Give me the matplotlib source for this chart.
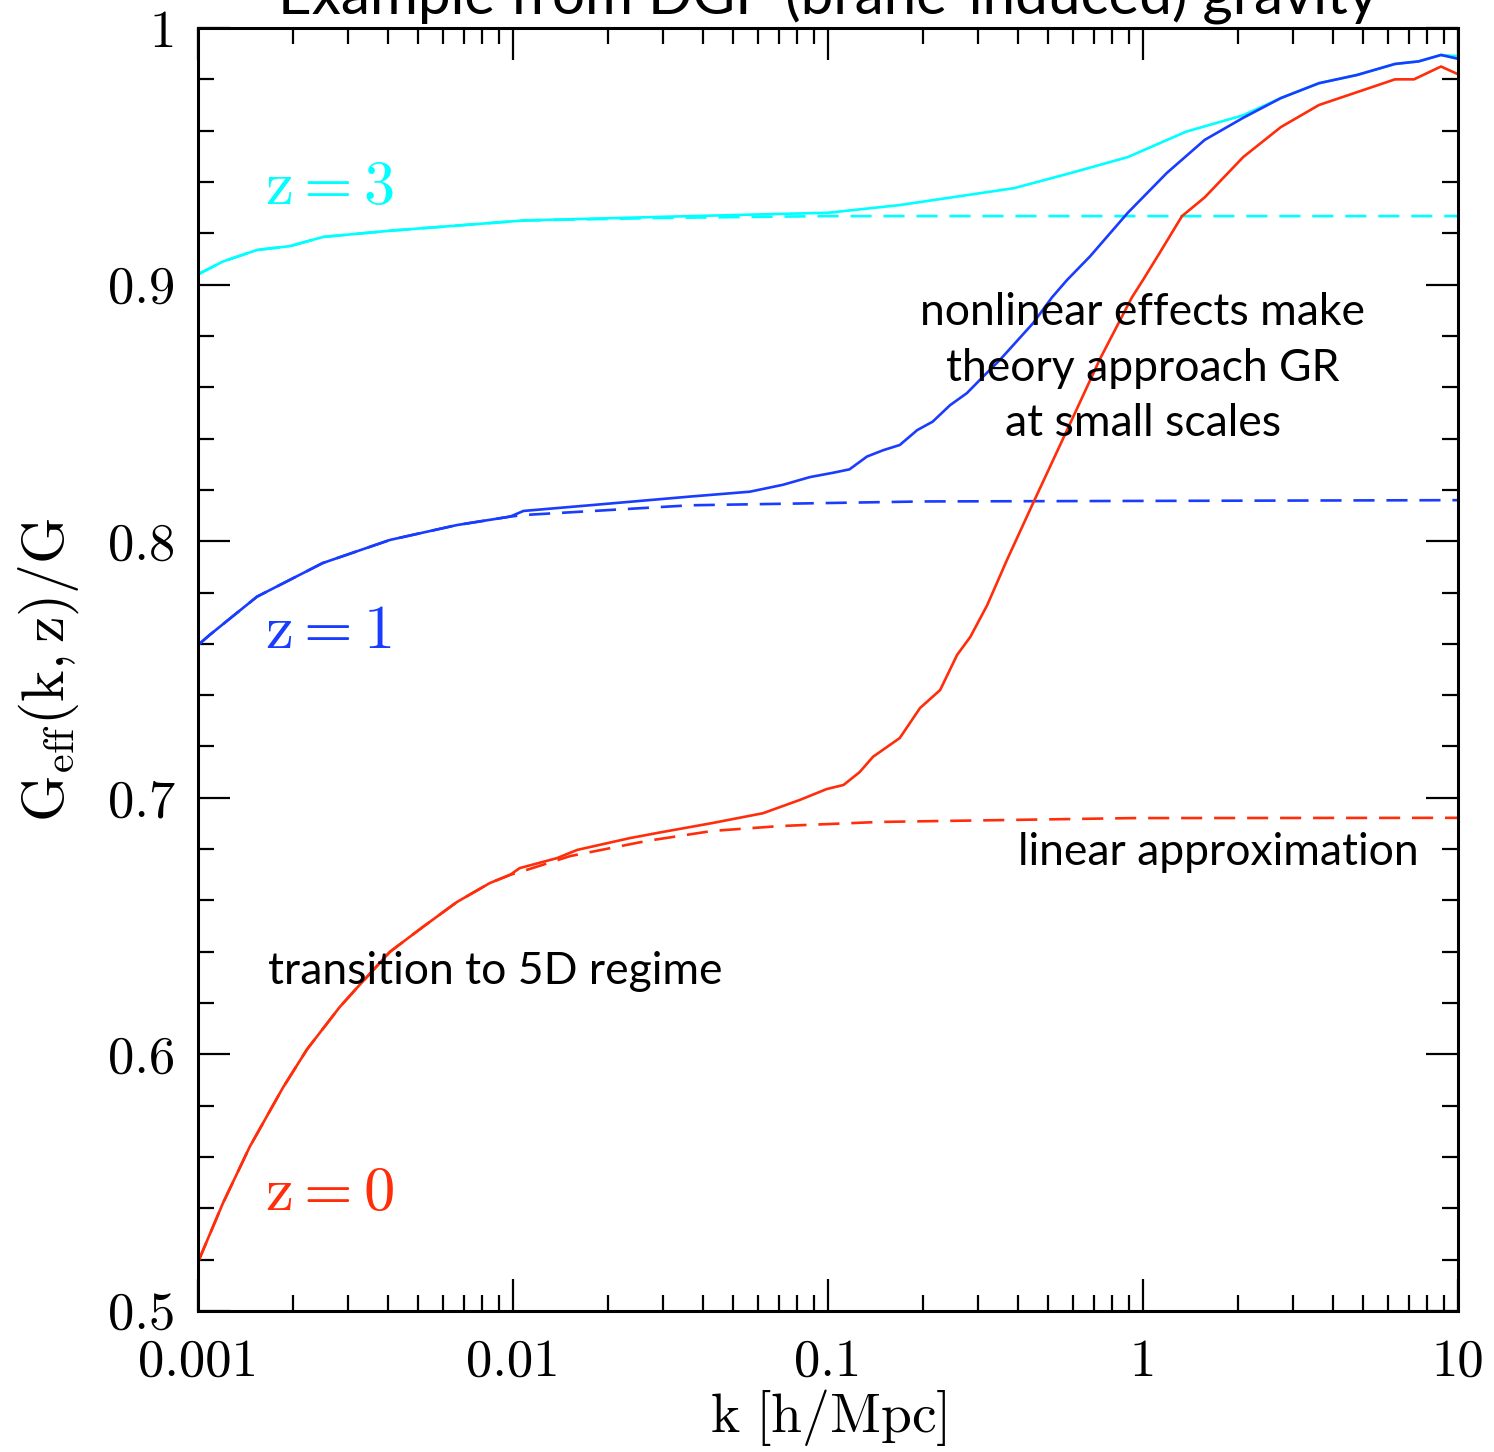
import matplotlib
matplotlib.use("Agg")
import matplotlib.pyplot as plt
from matplotlib.ticker import MultipleLocator, LogLocator, FixedLocator, FixedFormatter

plt.rcParams.update({
    "mathtext.fontset": "cm",
    "axes.formatter.use_mathtext": True,
    "font.family": "cmr10",
})

# --- curves: G_eff(k,z)/G vs k [h/Mpc] ---
K_Z0 = [0.001, 0.0012, 0.00146, 0.00186, 0.00222, 0.00282, 0.0032, 0.00407, 0.00518,
        0.00664, 0.00845, 0.0098, 0.0105, 0.0138, 0.016, 0.0235, 0.0299, 0.0431, 0.0622,
        0.0815, 0.099, 0.112, 0.126, 0.139, 0.169, 0.196, 0.227, 0.257, 0.283, 0.32,
        0.37, 0.448, 0.574, 0.73, 0.922, 1.0, 1.125, 1.33, 1.57, 2.08, 2.74, 3.62, 4.78,
        6.31, 7.25, 8.83, 10.0]
G_Z0 = [0.519, 0.542, 0.564, 0.587, 0.602, 0.6185, 0.626, 0.640, 0.6497,
        0.6594, 0.6668, 0.6700, 0.6726, 0.6765, 0.6797, 0.6843, 0.6867, 0.6902, 0.694,
        0.6992, 0.7034, 0.705, 0.710, 0.716, 0.7233, 0.735, 0.742, 0.7557, 0.7627, 0.775,
        0.7927, 0.8149, 0.8433, 0.871, 0.895, 0.9018, 0.912, 0.9267, 0.934, 0.9497, 0.9614,
        0.970, 0.975, 0.980, 0.980, 0.985, 0.982]
K_Z0_LIN = [0.001, 0.0012, 0.00146, 0.00186, 0.00222, 0.00282, 0.0032, 0.00407, 0.00518,
            0.00664, 0.00845, 0.0098, 0.0108, 0.0152, 0.0266, 0.043, 0.0705, 0.146, 0.93, 10.0]
G_Z0_LIN = [0.519, 0.542, 0.564, 0.587, 0.602, 0.6185, 0.626, 0.640, 0.6497,
            0.6594, 0.6668, 0.6700, 0.6715, 0.6773, 0.6832, 0.6871, 0.689, 0.6906, 0.6921, 0.6922]

K_Z1 = [0.001, 0.00109, 0.00154, 0.00249, 0.00407, 0.00664, 0.0098, 0.0108, 0.0175,
        0.0365, 0.0565, 0.072, 0.0877, 0.104, 0.117, 0.133, 0.15, 0.169, 0.192, 0.215,
        0.244, 0.276, 0.31, 0.351, 0.448, 0.514, 0.574, 0.679, 0.895, 1.19, 1.57, 2.08,
        2.74, 3.62, 4.78, 6.31, 7.5, 8.83, 10.0]
G_Z1 = [0.7595, 0.7635, 0.7784, 0.7915, 0.8005, 0.8063, 0.8096, 0.8118, 0.814,
        0.8174, 0.8193, 0.822, 0.825, 0.8267, 0.828, 0.833, 0.8355, 0.8375, 0.8433, 0.8466,
        0.853, 0.8577, 0.864, 0.8706, 0.885, 0.895, 0.9018, 0.911, 0.928, 0.9435, 0.9564, 0.965,
        0.9727, 0.9785, 0.9817, 0.986, 0.987, 0.9895, 0.988]
K_Z1_LIN = [0.001, 0.00109, 0.00154, 0.00249, 0.00407, 0.00664, 0.0098, 0.0108, 0.0365, 0.2, 10.0]
G_Z1_LIN = [0.7595, 0.7635, 0.7784, 0.7915, 0.8005, 0.8063, 0.8096, 0.8102, 0.814, 0.8155, 0.816]

K_Z3 = [0.001, 0.0012, 0.00154, 0.00196, 0.0025, 0.00407, 0.0108, 0.0365, 0.1, 0.169,
        0.39, 0.59, 0.895, 1.37, 2.08, 2.74, 3.62, 4.78, 6.31, 7.5, 8.83, 10.0]
G_Z3 = [0.904, 0.909, 0.9135, 0.915, 0.9186, 0.921, 0.925, 0.9267, 0.928, 0.931,
        0.9376, 0.9435, 0.9497, 0.9596, 0.966, 0.9727, 0.9785, 0.9817, 0.986, 0.987, 0.9895, 0.989]
K_Z3_LIN = [0.001, 0.0012, 0.00154, 0.00196, 0.0025, 0.00407, 0.0108, 0.03, 0.1, 10.0]
G_Z3_LIN = [0.904, 0.909, 0.9135, 0.915, 0.9186, 0.921, 0.925, 0.926, 0.9267, 0.9267]

XTICKS = [0.001, 0.01, 0.1, 1, 10]
XTICKLABELS = ["0.001", "0.01", "0.1", "1", "10"]
YTICKS = [0.5, 0.6, 0.7, 0.8, 0.9, 1.0]
YTICKLABELS = ["0.5", "0.6", "0.7", "0.8", "0.9", "1"]

C_Z0, C_Z1, C_Z3 = "#ff2d0a", "#1a3cff", "#00ffff"
SANS = "Lato"

fig = plt.figure(figsize=(14.94, 14.52), dpi=100)
ax = fig.add_axes([0.1325, 0.0971, 0.8434, 0.8836])

lw = 1.9
dash = (0, (8, 4.5))
for k, g, kl, gl, c in [(K_Z3, G_Z3, K_Z3_LIN, G_Z3_LIN, C_Z3),
                        (K_Z1, G_Z1, K_Z1_LIN, G_Z1_LIN, C_Z1),
                        (K_Z0, G_Z0, K_Z0_LIN, G_Z0_LIN, C_Z0)]:
    ax.plot(kl, gl, color=c, lw=lw, ls=dash)
    ax.plot(k, g, color=c, lw=lw)

ax.set_xscale("log")
ax.set_xlim(0.001, 10)
ax.set_ylim(0.5, 1.0)
ax.xaxis.set_major_locator(FixedLocator(XTICKS))
ax.xaxis.set_major_formatter(FixedFormatter(XTICKLABELS))
ax.xaxis.set_minor_locator(LogLocator(base=10, subs=range(2, 10)))
ax.xaxis.set_minor_formatter(FixedFormatter([]))
ax.yaxis.set_major_locator(FixedLocator(YTICKS))
ax.yaxis.set_major_formatter(FixedFormatter(YTICKLABELS))
ax.yaxis.set_minor_locator(MultipleLocator(0.02))

ax.tick_params(which="both", direction="in", top=True, right=True, width=1.6, color="black")
ax.tick_params(which="major", length=23)
ax.tick_params(which="minor", length=11.5)
ax.tick_params(axis="x", which="major", pad=20, labelsize=38)
ax.tick_params(axis="y", which="major", pad=16, labelsize=38)
for s in ax.spines.values():
    s.set_linewidth(2.2)

ax.set_xlabel(r"$\mathrm{k\ [h/Mpc]}$", fontsize=40, labelpad=1)
ax.set_ylabel(r"$\mathrm{G_{eff}(k,z)/G}$", fontsize=43, labelpad=20)

fig.text(0.554, 1 - 14 / 1452, "Example from DGP (brane-induced) gravity",
         ha="center", va="baseline", fontsize=42, family=SANS)

ax.text(0.00163, 0.9375, r"$\mathrm{z=3}$", color=C_Z3, fontsize=45, va="center")
ax.text(0.00163, 0.7645, r"$\mathrm{z=1}$", color=C_Z1, fontsize=45, va="center")
ax.text(0.00163, 0.5455, r"$\mathrm{z=0}$", color=C_Z0, fontsize=45, va="center")

ax.text(1.0, 0.8675, "nonlinear effects make\ntheory approach GR\nat small scales",
        ha="center", va="center", fontsize=32, family=SANS, linespacing=1.45)
ax.text(1.73, 0.6785, "linear approximation", ha="center", va="center", fontsize=32, family=SANS)
ax.text(0.00167, 0.6325, "transition to 5D regime", ha="left", va="center", fontsize=32, family=SANS)

fig.savefig("out.png", dpi=100)
